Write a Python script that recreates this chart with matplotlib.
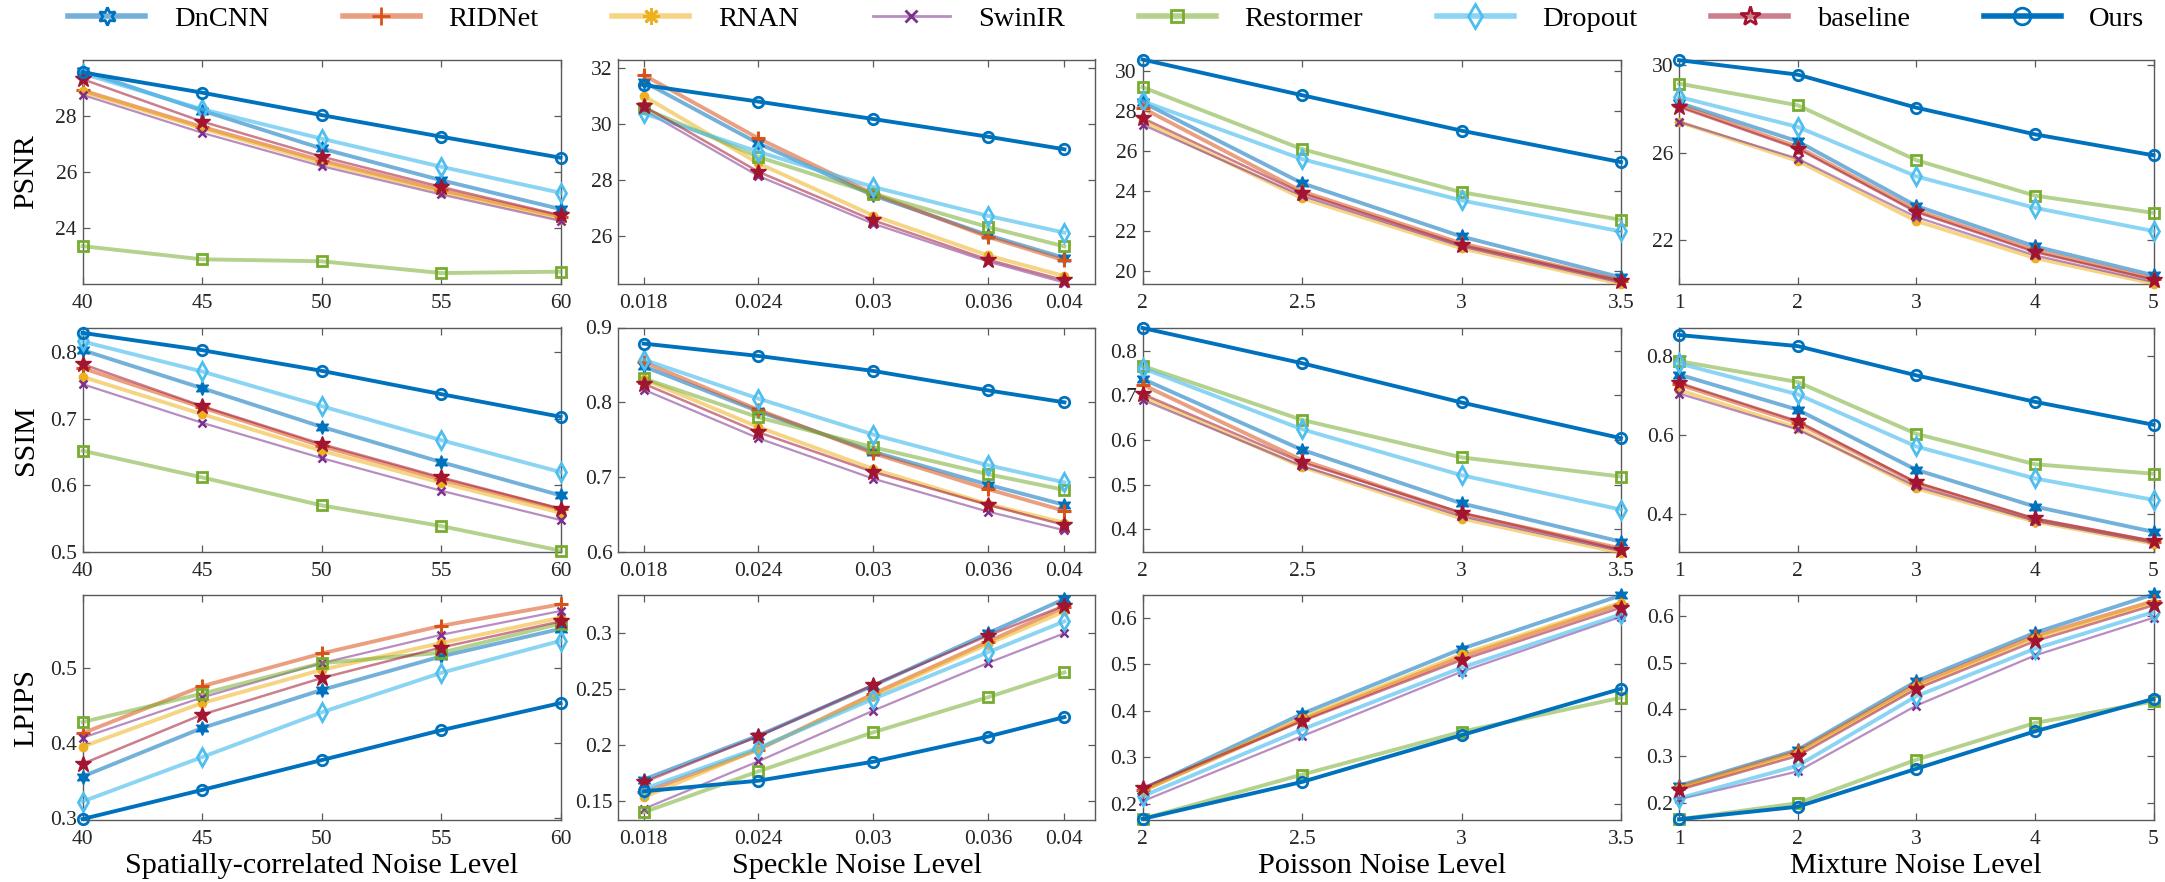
import matplotlib
matplotlib.use("Agg")
import matplotlib.pyplot as plt
from matplotlib.lines import Line2D
from matplotlib.ticker import FixedLocator, FixedFormatter

plt.rcParams['font.family'] = ['Liberation Serif', 'DejaVu Serif']

methods = ['DnCNN', 'RIDNet', 'RNAN', 'SwinIR', 'Restormer', 'Dropout', 'baseline', 'Ours']

# noise levels per column
lv_spatial = [40, 45, 50, 55, 60]
lv_speckle = [0.018, 0.024, 0.03, 0.036, 0.04]
lv_poisson = [2, 2.5, 3, 3.5]
lv_mixture = [1, 2, 3, 4, 5]

# ---- PSNR ----
psnr_spatial = {
    'DnCNN':     [29.60, 28.18, 26.83, 25.70, 24.67],
    'RIDNet':    [28.90, 27.60, 26.40, 25.35, 24.40],
    'RNAN':      [28.86, 27.55, 26.32, 25.29, 24.33],
    'SwinIR':    [28.74, 27.39, 26.20, 25.19, 24.25],
    'Restormer': [23.35, 22.88, 22.81, 22.39, 22.44],
    'Dropout':   [29.50, 28.23, 27.18, 26.18, 25.25],
    'baseline':  [29.30, 27.79, 26.54, 25.46, 24.45],
    'Ours':      [29.54, 28.82, 28.02, 27.25, 26.50],
}
psnr_speckle = {
    'DnCNN':     [31.51, 29.31, 27.46, 26.04, 25.23],
    'RIDNet':    [31.75, 29.49, 27.52, 25.98, 25.14],
    'RNAN':      [31.00, 28.60, 26.74, 25.32, 24.58],
    'SwinIR':    [30.50, 28.15, 26.45, 25.10, 24.35],
    'Restormer': [30.56, 28.83, 27.52, 26.33, 25.64],
    'Dropout':   [30.38, 29.01, 27.76, 26.73, 26.13],
    'baseline':  [30.64, 28.30, 26.57, 25.17, 24.43],
    'Ours':      [31.39, 30.80, 30.18, 29.55, 29.10],
}
psnr_poisson = {
    'DnCNN':     [28.42, 24.38, 21.72, 19.68],
    'RIDNet':    [28.13, 23.97, 21.38, 19.52],
    'RNAN':      [27.47, 23.63, 21.13, 19.35],
    'SwinIR':    [27.30, 23.75, 21.22, 19.42],
    'Restormer': [29.17, 26.08, 23.93, 22.55],
    'Dropout':   [28.47, 25.58, 23.52, 21.97],
    'baseline':  [27.63, 23.88, 21.30, 19.52],
    'Ours':      [30.55, 28.77, 27.00, 25.43],
}
psnr_mixture = {
    'DnCNN':     [28.28, 26.52, 23.57, 21.72, 20.40],
    'RIDNet':    [28.17, 26.27, 23.37, 21.54, 20.24],
    'RNAN':      [27.41, 25.63, 22.88, 21.19, 20.02],
    'SwinIR':    [27.41, 25.73, 23.06, 21.31, 20.09],
    'Restormer': [29.16, 28.17, 25.66, 24.04, 23.25],
    'Dropout':   [28.55, 27.18, 24.92, 23.48, 22.42],
    'baseline':  [28.09, 26.19, 23.29, 21.46, 20.20],
    'Ours':      [30.23, 29.57, 28.06, 26.84, 25.88],
}

# ---- SSIM ----
ssim_spatial = {
    'DnCNN':     [0.803, 0.746, 0.688, 0.635, 0.585],
    'RIDNet':    [0.776, 0.717, 0.659, 0.609, 0.564],
    'RNAN':      [0.763, 0.707, 0.652, 0.604, 0.559],
    'SwinIR':    [0.752, 0.694, 0.641, 0.592, 0.548],
    'Restormer': [0.652, 0.612, 0.570, 0.539, 0.502],
    'Dropout':   [0.816, 0.771, 0.719, 0.668, 0.620],
    'baseline':  [0.782, 0.719, 0.662, 0.612, 0.565],
    'Ours':      [0.829, 0.803, 0.772, 0.737, 0.703],
}
ssim_speckle = {
    'DnCNN':     [0.848, 0.788, 0.734, 0.690, 0.663],
    'RIDNet':    [0.854, 0.790, 0.732, 0.684, 0.655],
    'RNAN':      [0.831, 0.767, 0.711, 0.664, 0.639],
    'SwinIR':    [0.817, 0.752, 0.698, 0.654, 0.629],
    'Restormer': [0.832, 0.780, 0.740, 0.704, 0.683],
    'Dropout':   [0.857, 0.805, 0.757, 0.716, 0.693],
    'baseline':  [0.825, 0.760, 0.707, 0.663, 0.636],
    'Ours':      [0.8785, 0.862, 0.842, 0.816, 0.800],
}
ssim_poisson = {
    'DnCNN':     [0.737, 0.578, 0.458, 0.372],
    'RIDNet':    [0.724, 0.555, 0.435, 0.357],
    'RNAN':      [0.697, 0.540, 0.424, 0.347],
    'SwinIR':    [0.690, 0.542, 0.429, 0.351],
    'Restormer': [0.766, 0.645, 0.561, 0.518],
    'Dropout':   [0.761, 0.624, 0.521, 0.444],
    'baseline':  [0.703, 0.550, 0.437, 0.354],
    'Ours':      [0.851, 0.772, 0.684, 0.604],
}
ssim_mixture = {
    'DnCNN':     [0.753, 0.664, 0.512, 0.419, 0.355],
    'RIDNet':    [0.728, 0.631, 0.478, 0.386, 0.330],
    'RNAN':      [0.714, 0.618, 0.465, 0.381, 0.325],
    'SwinIR':    [0.705, 0.614, 0.470, 0.383, 0.327],
    'Restormer': [0.787, 0.734, 0.603, 0.526, 0.502],
    'Dropout':   [0.781, 0.703, 0.571, 0.490, 0.436],
    'baseline':  [0.732, 0.635, 0.480, 0.389, 0.332],
    'Ours':      [0.853, 0.825, 0.751, 0.684, 0.626],
}

# ---- LPIPS ----
lpips_spatial = {
    'DnCNN':     [0.355, 0.420, 0.471, 0.516, 0.553],
    'RIDNet':    [0.413, 0.476, 0.520, 0.557, 0.586],
    'RNAN':      [0.395, 0.4535, 0.498, 0.534, 0.568],
    'SwinIR':    [0.407, 0.461, 0.507, 0.545, 0.577],
    'Restormer': [0.428, 0.466, 0.507, 0.521, 0.560],
    'Dropout':   [0.3215, 0.381, 0.441, 0.494, 0.537],
    'baseline':  [0.372, 0.438, 0.487, 0.528, 0.563],
    'Ours':      [0.298, 0.337, 0.377, 0.417, 0.4535],
}
lpips_speckle = {
    'DnCNN':     [0.169, 0.2084, 0.2531, 0.300, 0.3307],
    'RIDNet':    [0.1576, 0.1958, 0.2457, 0.2925, 0.3233],
    'RNAN':      [0.1531, 0.1964, 0.2442, 0.2904, 0.3197],
    'SwinIR':    [0.1427, 0.1854, 0.2307, 0.2734, 0.300],
    'Restormer': [0.1397, 0.1764, 0.2113, 0.2427, 0.265],
    'Dropout':   [0.1606, 0.1973, 0.2412, 0.283, 0.3107],
    'baseline':  [0.1666, 0.2078, 0.2537, 0.2979, 0.3248],
    'Ours':      [0.1585, 0.168, 0.185, 0.2075, 0.225],
}
lpips_poisson = {
    'DnCNN':     [0.231, 0.3935, 0.533, 0.648],
    'RIDNet':    [0.229, 0.381, 0.516, 0.629],
    'RNAN':      [0.227, 0.385, 0.521, 0.632],
    'SwinIR':    [0.2057, 0.3455, 0.4839, 0.602],
    'Restormer': [0.168, 0.263, 0.355, 0.428],
    'Dropout':   [0.2165, 0.360, 0.4925, 0.607],
    'baseline':  [0.2344, 0.3778, 0.509, 0.6215],
    'Ours':      [0.168, 0.2473, 0.3477, 0.4473],
}
lpips_mixture = {
    'DnCNN':     [0.236, 0.313, 0.460, 0.5642, 0.6466],
    'RIDNet':    [0.233, 0.3097, 0.453, 0.557, 0.632],
    'RNAN':      [0.231, 0.306, 0.449, 0.553, 0.6287],
    'SwinIR':    [0.207, 0.2667, 0.4079, 0.5154, 0.5964],
    'Restormer': [0.164, 0.1986, 0.2918, 0.3706, 0.417],
    'Dropout':   [0.209, 0.279, 0.428, 0.530, 0.6086],
    'baseline':  [0.2272, 0.300, 0.4437, 0.546, 0.623],
    'Ours':      [0.164, 0.191, 0.2724, 0.3527, 0.4222],
}

x_levels = [lv_spatial, lv_speckle, lv_poisson, lv_mixture]
x_names = ['Spatially-correlated Noise Level', 'Speckle Noise Level',
           'Poisson Noise Level', 'Mixture Noise Level']
x_ticklabels = [['40', '45', '50', '55', '60'],
                ['0.018', '0.024', '0.03', '0.036', '0.04'],
                ['2', '2.5', '3', '3.5'],
                ['1', '2', '3', '4', '5']]
x_lims = [(40, 60), (0.01666, 0.0416), (2, 3.5), (1, 5)]

row_names = ['PSNR', 'SSIM', 'LPIPS']
grid_data = [[psnr_spatial, psnr_speckle, psnr_poisson, psnr_mixture],
             [ssim_spatial, ssim_speckle, ssim_poisson, ssim_mixture],
             [lpips_spatial, lpips_speckle, lpips_poisson, lpips_mixture]]

y_ticks = [[[24, 26, 28], [26, 28, 30, 32], [20, 22, 24, 26, 28, 30], [22, 26, 30]],
           [[0.5, 0.6, 0.7, 0.8], [0.6, 0.7, 0.8, 0.9], [0.4, 0.5, 0.6, 0.7, 0.8], [0.4, 0.6, 0.8]],
           [[0.3, 0.4, 0.5], [0.15, 0.2, 0.25, 0.3], [0.2, 0.3, 0.4, 0.5, 0.6], [0.2, 0.3, 0.4, 0.5, 0.6]]]
y_lims = [[(22, 30), (24.3, 32.3), (19.35, 30.55), (20.0, 30.26)],
          [(0.5, 0.837), (0.6, 0.9), (0.349, 0.852), (0.304, 0.872)],
          [(0.297, 0.598), (0.133, 0.334), (0.166, 0.648), (0.163, 0.6445)]]

# MATLAB default colours
style = {
    'DnCNN':     dict(c='#0072BD', a=0.55, lw=2.8, m=(6, 1, 0), ms=10, mfc='fill', mew=1.0),
    'RIDNet':    dict(c='#D95319', a=0.55, lw=2.8, m='+', ms=10, mfc='fill', mew=2.2),
    'RNAN':      dict(c='#EDB120', a=0.55, lw=2.8, m='o', ms=6, mfc='fill', mew=1.0),
    'SwinIR':    dict(c='#7E2F8E', a=0.55, lw=1.6, m='x', ms=6, mfc='fill', mew=1.8),
    'Restormer': dict(c='#77AC30', a=0.55, lw=2.8, m='s', ms=6.5, mfc='none', mew=2.0),
    'Dropout':   dict(c='#4DBEEE', a=0.65, lw=2.8, m='d', ms=9, mfc='none', mew=2.0),
    'baseline':  dict(c='#A2142F', a=0.55, lw=1.8, m='*', ms=12, mfc='fill', mew=1.0),
    'Ours':      dict(c='#0072BD', a=1.0, lw=2.8, m='o', ms=7.5, mfc='none', mew=2.0),
}
legend_markers = {'DnCNN': ((6, 1, 0), 'none', 13), 'RIDNet': ('+', 'fill', 13),
                  'RNAN': ((8, 2, 0), 'fill', 12), 'SwinIR': ('x', 'fill', 8),
                  'Restormer': ('s', 'none', 9), 'Dropout': ('d', 'none', 12),
                  'baseline': ('*', 'none', 15), 'Ours': ('o', 'none', 12)}


def rgba(hexc, a):
    return matplotlib.colors.to_rgba(hexc, a)


W, H = 2165, 882
fig = plt.figure(figsize=(W / 100, H / 100), dpi=100)

lefts = [82.5, 618, 1142.5, 1679]
widths = [478, 477, 478.5, 474.5]
tops = [59.5, 327.5, 595.3]
ah = 224.5

axis_col = '#5a5a5a'
text_col = '#262626'

for r in range(3):
    for c in range(4):
        ax = fig.add_axes([lefts[c] / W, 1 - (tops[r] + ah) / H, widths[c] / W, ah / H])
        data = grid_data[r][c]
        xs = x_levels[c]
        for name in methods:
            s = style[name]
            mfc = s['c'] if s['mfc'] == 'fill' else 'none'
            ax.plot(xs, data[name], color=rgba(s['c'], s['a']), lw=s['lw'],
                    marker=s['m'], ms=s['ms'], mec=s['c'], mfc=mfc, mew=s['mew'],
                    clip_on=False, zorder=3 if name != 'Ours' else 4)
        ax.set_xlim(*x_lims[c])
        ax.set_ylim(*y_lims[r][c])
        ax.xaxis.set_major_locator(FixedLocator(xs))
        ax.xaxis.set_major_formatter(FixedFormatter(x_ticklabels[c]))
        yt = y_ticks[r][c]
        ax.yaxis.set_major_locator(FixedLocator(yt))
        ax.yaxis.set_major_formatter(FixedFormatter([('%g' % v) for v in yt]))
        ax.tick_params(direction='in', length=5, width=0.9, color=axis_col,
                       top=True, right=True, labelsize=15.5, labelcolor=text_col)
        ax.tick_params(axis='x', pad=7)
        ax.tick_params(axis='y', pad=4)
        for sp in ax.spines.values():
            sp.set_color(axis_col)
            sp.set_linewidth(1.0)
        if c == 0:
            ax.set_ylabel(row_names[r], fontsize=21.5, color='black')
            ax.yaxis.set_label_coords(-0.09, 0.5)
        if r == 2:
            ax.set_xlabel(x_names[c], fontsize=21.8, color='black', labelpad=3)

handles = []
for name in methods:
    s = style[name]
    m, fill, ms = legend_markers[name]
    mfc = s['c'] if fill == 'fill' else 'none'
    handles.append(Line2D([], [], color=rgba(s['c'], max(s['a'], 0.55)),
                          lw=4.0 if name != 'SwinIR' else 2.0,
                          marker=m, ms=ms, mec=s['c'], mfc=mfc, mew=2.0))
fig.legend(handles, methods, loc='center', bbox_to_anchor=(0.511, 0.978), ncol=8,
           frameon=False, fontsize=20.5, handlelength=2.7, handletextpad=1.0,
           columnspacing=2.6)

fig.savefig('out.png', dpi=100)
